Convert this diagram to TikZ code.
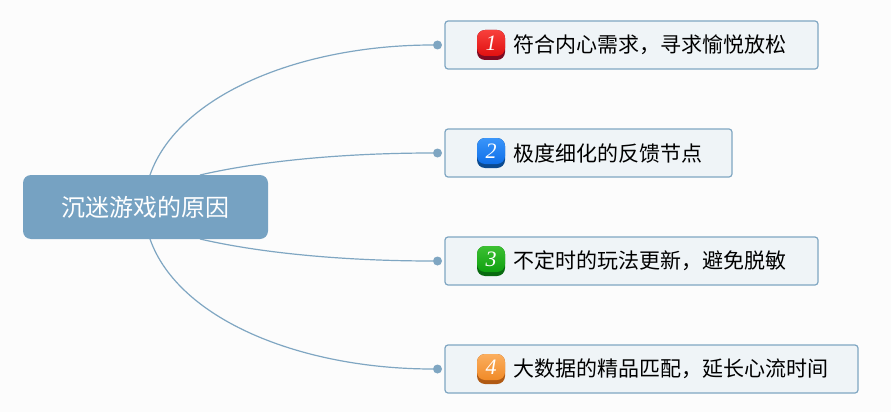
\documentclass[tikz,border=0pt]{standalone}
\usepackage{fontspec}
\newfontfamily\cjk{Noto Sans CJK SC}
\newfontfamily\digitfont{Liberation Serif}
\definecolor{topicblue}{HTML}{76A2C2}
\definecolor{linkblue}{HTML}{7FA6C2}
\definecolor{boxfill}{HTML}{EFF4F7}
\definecolor{pagegrey}{HTML}{FCFCFC}
\definecolor{redlow}{HTML}{7E0A22}
\definecolor{redtop}{HTML}{F8403C}
\definecolor{redmid}{HTML}{E01010}
\definecolor{bluelow}{HTML}{0B4A90}
\definecolor{bluetop}{HTML}{3A95FA}
\definecolor{bluemid}{HTML}{0F6FE8}
\definecolor{greenlow}{HTML}{086A10}
\definecolor{greentop}{HTML}{3CC032}
\definecolor{greenmid}{HTML}{0FA010}
\definecolor{orangelow}{HTML}{B05A14}
\definecolor{orangetop}{HTML}{FBAE5E}
\definecolor{orangemid}{HTML}{F08A28}
\tikzset{
  root/.style={fill=topicblue, rounded corners=8pt, text=white, minimum width=245pt,
    minimum height=64pt, inner sep=0pt, font=\cjk\fontsize{24}{28}\selectfont},
  leaf/.style={draw=linkblue, line width=1.2pt, fill=boxfill, rounded corners=3pt,
    minimum height=48pt, inner sep=0pt},
  leaftext/.style={anchor=west, inner sep=0pt, text=black, font=\cjk\fontsize{21}{25}\selectfont},
  dot/.style={circle, fill=linkblue, minimum size=9pt, inner sep=0pt},
  badgelow/.style={rounded corners=8pt, minimum width=28pt, minimum height=30pt, inner sep=0pt},
  badgetop/.style={rounded corners=8pt, minimum width=28pt, minimum height=26pt, inner sep=0pt,
    text=white, font=\digitfont\fontsize{22}{22}\selectfont\itshape},
  link/.style={draw=linkblue, line width=1.2pt},
}
\begin{document}
\begin{tikzpicture}[x=1pt, y=-1pt]
\useasboundingbox[fill=pagegrey] (0, 0) rectangle (891, 412);
\node[root] at (145.5, 207) (reason) {沉迷游戏的原因};
\node[leaf, minimum width=373pt] at (631.5, 45) (needbox) {};
\node[leaf, minimum width=287pt] at (588.5, 153) (pointbox) {};
\node[leaf, minimum width=373pt] at (631.5, 261) (updatebox) {};
\node[leaf, minimum width=413pt] at (651.5, 369) (matchbox) {};
\node[dot] at (437.5, 45) (needdot) {};
\node[dot] at (437.5, 153) (pointdot) {};
\node[dot] at (437.5, 261) (updatedot) {};
\node[dot] at (437.5, 369) (matchdot) {};
\node[badgelow, fill=redlow] at (491, 45) (needlow) {};
\node[badgetop, top color=redtop, bottom color=redmid] at (491, 43) (needtop) {1};
\node[badgelow, fill=bluelow] at (491, 153) (pointlow) {};
\node[badgetop, top color=bluetop, bottom color=bluemid] at (491, 151) (pointtop) {2};
\node[badgelow, fill=greenlow] at (491, 261) (updatelow) {};
\node[badgetop, top color=greentop, bottom color=greenmid] at (491, 259) (updatetop) {3};
\node[badgelow, fill=orangelow] at (491, 369) (matchlow) {};
\node[badgetop, top color=orangetop, bottom color=orangemid] at (491, 367) (matchtop) {4};
\node[leaftext] at (513, 45) (needtext) {符合内心需求，寻求愉悦放松};
\node[leaftext] at (513, 153) (pointtext) {极度细化的反馈节点};
\node[leaftext] at (513, 261) (updatetext) {不定时的玩法更新，避免脱敏};
\node[leaftext] at (513, 369) (matchtext) {大数据的精品匹配，延长心流时间};
\coordinate (rootup) at (150, 175);
\coordinate (rootupright) at (200, 175);
\coordinate (rootdown) at (150, 239);
\coordinate (rootdownright) at (200, 239);
\draw[link] (rootup) .. controls (178, 95) and (300, 45) .. (needdot);
\draw[link] (rootupright) .. controls (265, 160) and (350, 153) .. (pointdot);
\draw[link] (rootdownright) .. controls (265, 254) and (350, 261) .. (updatedot);
\draw[link] (rootdown) .. controls (178, 319) and (300, 369) .. (matchdot);
\end{tikzpicture}
\end{document}
